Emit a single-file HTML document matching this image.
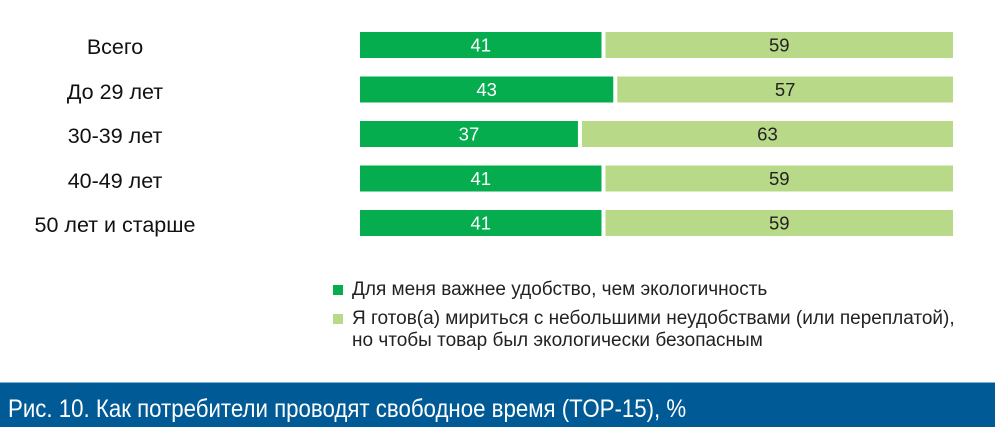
<!DOCTYPE html>
<html><head><meta charset="utf-8">
<style>
body{margin:0;width:995px;height:426px;background:#fff;overflow:hidden;position:relative;font-family:"Liberation Sans",sans-serif}
.lab{position:absolute;width:230px;left:0;text-align:center;font-size:21.5px;color:#111}
.leg{position:absolute;font-size:19px;color:#222;line-height:22px;white-space:nowrap}
.sq{position:absolute;width:10px;height:10px}
#banner{position:absolute;left:0;top:382px;width:995px;height:44px;background:#005a96;border-top:1px solid #7fb0d6}
#title{position:absolute;left:8px;top:12px;color:#fff;font-size:25px;white-space:nowrap;transform:scaleX(0.89);transform-origin:left top}
</style></head><body>
<svg id="chart" width="995" height="380" style="position:absolute;left:0;top:0"></svg>
<div class="sq" style="left:333px;top:285px;background:#06ad4e"></div>
<div class="leg" style="left:352px;top:279px">Для меня важнее удобство, чем экологичность</div>
<div class="sq" style="left:333px;top:314px;background:#b8d987"></div>
<div class="leg" style="left:352px;top:308px">Я готов(а) мириться с небольшими неудобствами (или переплатой),<br>но чтобы товар был экологически безопасным</div>
<div id="banner"><div id="title">Рис. 10. Как потребители проводят свободное время (TOP-15), %</div></div>
<script>
const categories=["Всего","До 29 лет","30-39 лет","40-49 лет","50 лет и старше"];
const convenience=[41,43,37,41,41];
const ecology=[59,57,63,59,59];
const svg=document.getElementById('chart');
const NS="http://www.w3.org/2000/svg";
const x0=360,unit=5.89,gap=4,top0=32,step=44.5,bh=26;
function xs(v){return v*unit;}
function ys(i){return top0+i*step;}
categories.forEach((c,i)=>{
  const y=ys(i);
  const d=document.createElement('div');
  d.className='lab';d.style.top=(y+3)+'px';d.textContent=c;
  
  
  document.body.appendChild(d);
  const w1=xs(convenience[i]),w2=xs(ecology[i]);
  const r1=document.createElementNS(NS,'rect');
  r1.setAttribute('x',x0);r1.setAttribute('y',y);r1.setAttribute('width',w1);r1.setAttribute('height',bh);r1.setAttribute('fill','#06ad4e');
  
  
  svg.appendChild(r1);
  const r2=document.createElementNS(NS,'rect');
  r2.setAttribute('x',x0+w1+gap);r2.setAttribute('y',y);r2.setAttribute('width',w2);r2.setAttribute('height',bh);r2.setAttribute('fill','#b8d987');
  
  
  svg.appendChild(r2);
  const t1=document.createElementNS(NS,'text');
  t1.setAttribute('x',x0+w1/2);t1.setAttribute('y',y+19.5);t1.setAttribute('text-anchor','middle');t1.setAttribute('fill','#fff');t1.setAttribute('font-size','18.5');
  t1.textContent=convenience[i];
  
  
  svg.appendChild(t1);
  const t2=document.createElementNS(NS,'text');
  t2.setAttribute('x',x0+w1+gap+w2/2);t2.setAttribute('y',y+19.5);t2.setAttribute('text-anchor','middle');t2.setAttribute('fill','#222');t2.setAttribute('font-size','18.5');
  t2.textContent=ecology[i];
  
  
  svg.appendChild(t2);
});
</script>
</body></html>
